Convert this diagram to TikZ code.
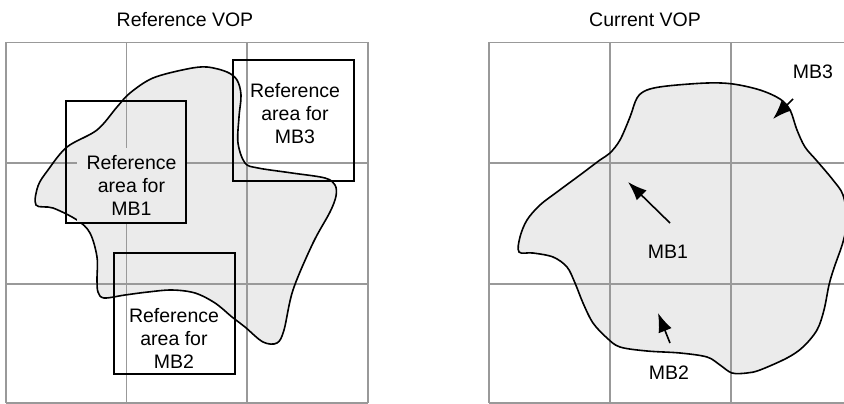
\documentclass[tikz,border=0pt]{standalone}
\usepackage{fontspec}
\setmainfont{Liberation Sans}
\usetikzlibrary{arrows.meta}
\definecolor{blobgray}{HTML}{EBEBEB}
\definecolor{gridgray}{HTML}{999999}
\begin{document}
\begin{tikzpicture}[x=1pt,y=-1pt,
  gridline/.style={draw=gridgray,line width=1.6pt},
  outline/.style={draw=black,line width=1.6pt},
  refbox/.style={draw=black,line width=2.8pt},
  lbl/.style={font=\fontsize{19.5}{23}\selectfont,align=center,inner sep=0pt},
  mvarrow/.style={-{Latex[length=19pt,width=14pt]},line width=1.6pt}]
\useasboundingbox (0,0) rectangle (844,404);
\clip (0,0) rectangle (844,404);
\def\leftblob{plot[smooth cycle,tension=0.55] coordinates {
 (36,205) (38,186) (48,170) (67,147) (97,130) (117,107) (130,93) (153,78)
 (187,69) (207,67) (227,72) (237,80) (241,95) (239,117) (238,143) (245,163)
 (258,168) (292,173) (325,178) (335,185) (336,196) (330,212) (313,243)
 (293,290) (284,330) (277,343) (263,342) (245,327) (232,317) (215,303)
 (195,293) (172,290) (148,292) (125,295) (104,298) (98,292) (97,280)
 (97,257) (90,233) (77,220) (53,208)}}
\def\rightblob{plot[smooth cycle,tension=0.55] coordinates {
 (637,98) (647,90) (667,86) (707,83) (733,84) (760,90) (780,99) (790,110)
 (797,130) (805,147) (817,161) (833,180) (843,195) (847,220) (843,242)
 (834,268) (829,285) (824,310) (817,330) (803,347) (787,358) (760,370)
 (747,373) (732,373) (720,365) (707,357) (680,353) (647,351) (620,347)
 (607,338) (593,323) (583,303) (575,283) (567,267) (553,257) (533,253)
 (519,252) (520,237) (527,220) (540,205) (557,192) (580,175) (600,160)
 (610,153) (620,140) (630,117)}}
% blob fills
\fill[blobgray] \leftblob;
\fill[blobgray] \rightblob;
% grids
\foreach \x in {6,126.5,247,368} \draw[gridline] (\x,42.5) -- (\x,403);
\foreach \y in {42.5,163,284,403} \draw[gridline] (6,\y) -- (368,\y);
\foreach \x in {489,610,731,852} \draw[gridline] (\x,42.5) -- (\x,403);
\foreach \y in {42.5,163,284,403} \draw[gridline] (489,\y) -- (852,\y);
% outlines
\draw[outline] \leftblob;
\draw[outline] \rightblob;
% titles
\node[lbl] (tref) at (185,20) {Reference VOP};
\node[lbl] (tcur) at (645,20) {Current VOP};
% reference areas
\node[lbl,fill=blobgray,minimum width=109pt,minimum height=75pt] (t1) at (131.5,185.5) {Reference\\area for\\MB1};
\draw[refbox] (66,101) rectangle (186,223);
\draw[refbox] (233,60) rectangle (354,181);
\node[lbl] (t3) at (295,114) {Reference\\area for\\MB3};
\draw[refbox] (114,253) rectangle (235,374);
\node[lbl] (t2) at (174,338) {Reference\\area for\\MB2};
% motion vectors
\coordinate (a1s) at (670,223);
\coordinate (a1e) at (628,182);
\coordinate (a2s) at (670,343);
\coordinate (a2e) at (658,313);
\coordinate (a3s) at (793,99);
\coordinate (a3e) at (773,119);
\draw[mvarrow] (a1s) -- (a1e);
\draw[mvarrow] (a2s) -- (a2e);
\draw[mvarrow] (a3s) -- (a3e);
\node[lbl] (m1) at (668,252) {MB1};
\node[lbl] (m2) at (669,373) {MB2};
\node[lbl] (m3) at (813,72) {MB3};
\end{tikzpicture}
\end{document}
